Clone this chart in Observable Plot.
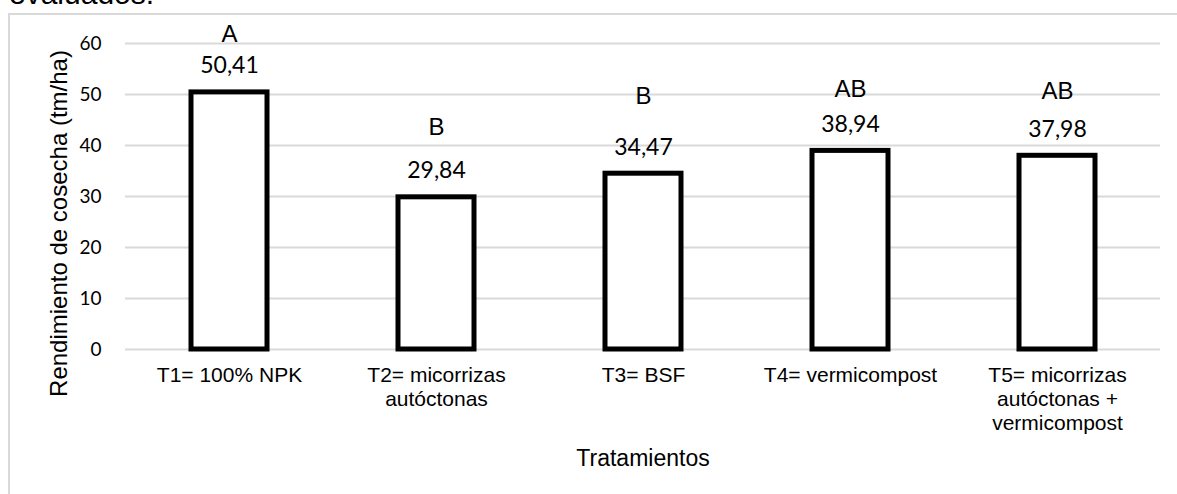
<!DOCTYPE html>
<html>
<head>
<meta charset="utf-8">
<script src="https://cdn.jsdelivr.net/npm/d3@7"></script>
<script src="https://cdn.jsdelivr.net/npm/@observablehq/plot@0.6"></script>
<style>
  html, body { margin: 0; padding: 0; background: #fff; overflow: hidden; }
  #wrap { position: relative; width: 1177px; height: 494px; overflow: hidden; }
  #frame { position: absolute; left: 8px; top: 13px; right: 0; bottom: 0;
           border-left: 2px solid #d9d9d9; border-top: 2px solid #d9d9d9; }
  #above { position: absolute; left: 9px; top: -23px; font-family: "Liberation Sans", Arial, sans-serif;
           font-size: 30px; color: #000; white-space: nowrap; }
  #chart { position: absolute; left: 0; top: 0; }
</style>
</head>
<body>
<div id="wrap">
  <div id="frame"></div>
  <div id="above">evaluados.</div>
  <div id="chart"></div>
</div>
<script>
const categories = [
  "T1= 100% NPK",
  "T2= micorrizas\nautóctonas",
  "T3= BSF",
  "T4= vermicompost",
  "T5= micorrizas\nautóctonas +\nvermicompost"
];
const yields = [50.41, 29.84, 34.47, 38.94, 37.98];
const letters = ["A", "B", "B", "AB", "AB"];
const letterHeights = [60.2, 42.0, 48.2, 49.6, 49.2];
const yTicks = [0, 10, 20, 30, 40, 50, 60];
const xTitle = "Tratamientos";
const yTitle = "Rendimiento de cosecha (tm/ha)";

const data = categories.map((c, i) => ({cat: c, v: yields[i], letter: letters[i], ly: letterHeights[i]}));
const fmt = v => d3.format(".2f")(v).replace(".", ",");

const chart = Plot.plot({
  width: 1177,
  height: 494,
  marginLeft: 125,
  marginRight: 17,
  marginTop: 43,
  marginBottom: 145,
  style: {background: "transparent", overflow: "visible"},
  x: {domain: categories, paddingInner: 0.633, paddingOuter: 0.3165},
  y: {domain: [0, 60]},
  marks: [
    Plot.gridY(yTicks, {stroke: "#d9d9d9", strokeOpacity: 1, strokeWidth: 2}),
    Plot.axisY(yTicks, {tickSize: 0, tickPadding: 24, fontSize: 19, fontFamily: "Lato, sans-serif", fill: "#000", label: null}),
    Plot.axisX({tickSize: 0, tickPadding: 15, fontSize: 21, fontFamily: "Liberation Sans, Arial, sans-serif", fill: "#000", lineHeight: 1.15, label: null}),
    Plot.barY(data, {x: "cat", y: "v", fill: "white", stroke: "#000", strokeWidth: 5}),
    Plot.text(data, {x: "cat", y: "v", text: d => fmt(d.v), lineAnchor: "bottom", dy: -19,
      fontSize: 23, fontFamily: "Lato, sans-serif", fill: "#000"}),
    Plot.text(data, {x: "cat", y: "ly", text: "letter", lineAnchor: "bottom",
      fontSize: 24, fontFamily: "Liberation Sans, Arial, sans-serif", fill: "#000"}),
    Plot.text([xTitle], {frameAnchor: "bottom", lineAnchor: "bottom", dy: 116,
      fontSize: 23, fontFamily: "Liberation Sans, Arial, sans-serif", fill: "#000"}),
    Plot.text([yTitle], {frameAnchor: "left", rotate: -90, textAnchor: "middle", lineAnchor: "bottom", dx: -59, dy: 27,
      fontSize: 24, fontFamily: "Liberation Sans, Arial, sans-serif", fill: "#000"})
  ]
});
document.getElementById("chart").appendChild(chart);
</script>
</body>
</html>
